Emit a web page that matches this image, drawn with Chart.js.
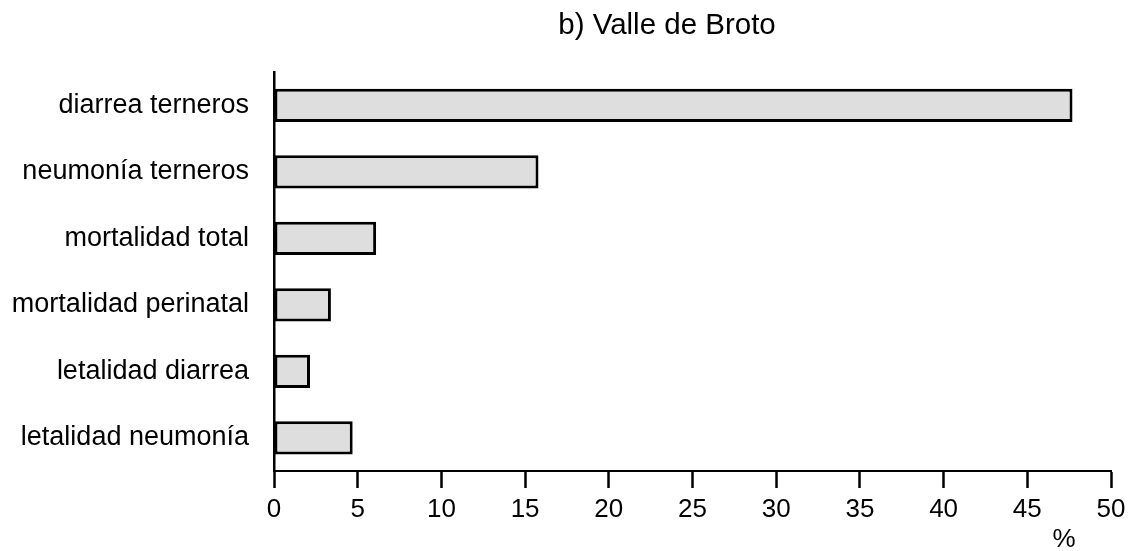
<!DOCTYPE html>
<html>
<head>
<meta charset="utf-8">
<script src="https://cdn.jsdelivr.net/npm/chart.js@4/dist/chart.umd.min.js"></script>
<style>
html,body{margin:0;padding:0;background:#fff;}
#wrap{width:1132px;height:551px;position:relative;}
</style>
</head>
<body>
<div id="wrap"><canvas id="c" width="1132" height="551"></canvas></div>
<script>
const categories = ["diarrea terneros","neumonía terneros","mortalidad total","mortalidad perinatal","letalidad diarrea","letalidad neumonía"];
const values = [47.7, 15.8, 6.1, 3.4, 2.15, 4.7];
const xTicks = [0,5,10,15,20,25,30,35,40,45,50];
const titleText = "b) Valle de Broto";
const unitText = "%";

const FONT = "'Liberation Sans', Arial, Helvetica, sans-serif";

const extraText = {
  id: 'extraText',
  afterDraw(chart) {
    const ctx = chart.ctx;
    const xs = chart.scales.x;
    ctx.save();
    ctx.fillStyle = '#000';
    ctx.textAlign = 'center';
    ctx.textBaseline = 'middle';
    ctx.font = "29.5px " + FONT;
    ctx.fillText(titleText, 667, 26);
    ctx.font = "26px " + FONT;
    ctx.fillText(unitText, xs.getPixelForValue(47.2), 540);
    ctx.restore();
  }
};

new Chart(document.getElementById('c'), {
  type: 'bar',
  data: {
    labels: categories,
    datasets: [{
      data: values,
      backgroundColor: '#dedede',
      borderColor: '#000',
      borderWidth: 3,
      borderSkipped: false,
      barPercentage: 0.5,
      categoryPercentage: 1.0
    }]
  },
  options: {
    indexAxis: 'y',
    responsive: false,
    animation: false,
    devicePixelRatio: 1,
    layout: { padding: { left: 0, right: 21, top: 72, bottom: 0 } },
    plugins: { legend: { display: false }, title: { display: false }, tooltip: { enabled: false } },
    scales: {
      x: {
        type: 'linear',
        min: 0, max: 50,
        afterBuildTicks(scale) { scale.ticks = xTicks.map(v => ({ value: v })); },
        afterFit(scale) { scale.height = 80; },
        border: { display: true, color: '#000', width: 2 },
        grid: { display: true, drawOnChartArea: false, drawTicks: true, tickLength: 17, tickColor: '#000', tickWidth: 2.5 },
        ticks: { color: '#000', font: { family: FONT, size: 26 }, padding: 6, maxRotation: 0 }
      },
      y: {
        type: 'category',
        offset: true,
        afterFit(scale) { scale.width = 274; },
        border: { display: true, color: '#000', width: 2.5 },
        grid: { display: true, drawOnChartArea: false, drawTicks: false },
        ticks: { color: '#000', font: { family: FONT, size: 27 }, padding: 25 }
      }
    }
  },
  plugins: [extraText]
});
</script>
</body>
</html>
